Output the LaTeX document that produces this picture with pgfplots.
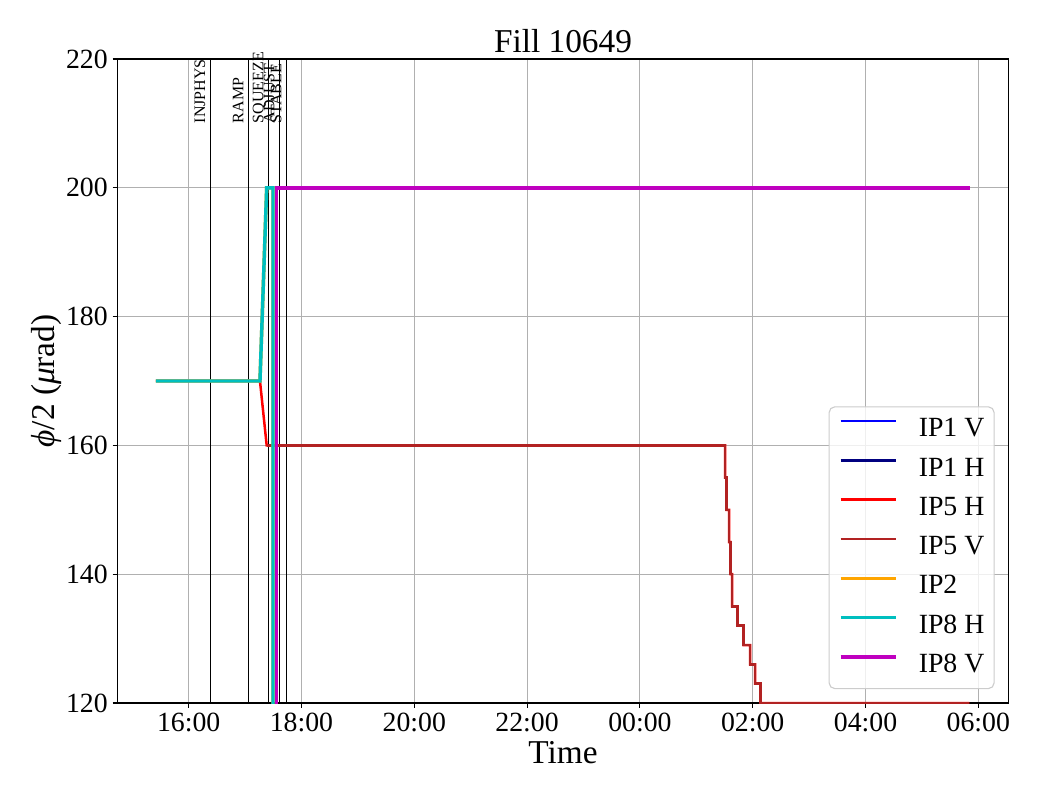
\documentclass[border=0pt]{standalone}
\usepackage{fontspec}
\setmainfont{Liberation Serif}
\usepackage{pgfplots}
\pgfplotsset{compat=1.18}
\definecolor{ipone}{RGB}{0,0,255}
\definecolor{iponeh}{RGB}{0,0,128}
\definecolor{ipfiveh}{RGB}{255,0,0}
\definecolor{ipfivev}{RGB}{178,34,34}
\definecolor{iptwo}{RGB}{255,165,0}
\definecolor{ipeighth}{RGB}{0,191,191}
\definecolor{ipeightv}{RGB}{191,0,191}
\definecolor{gridgray}{RGB}{176,176,176}
\definecolor{leggray}{RGB}{204,204,204}
\begin{document}
\begin{tikzpicture}
\path[use as bounding box] (-84.6pt,-69.84pt) rectangle (664.2pt,506.16pt);
\begin{axis}[
  at={(0,0)}, anchor=south west,
  scale only axis, width=641.52pt, height=463.68pt,
  xmin=14.738, xmax=30.535, ymin=120, ymax=220,
  xtick={16,18,20,22,24,26,28,30},
  xticklabels={16:00,18:00,20:00,22:00,00:00,02:00,04:00,06:00},
  ytick={120,140,160,180,200,220},
  grid=major, major grid style={gridgray, line width=0.8pt},
  axis line style={line width=0.8pt},
  tick align=outside, major tick length=3.5pt,
  tick style={black, line width=0.8pt},
  tick pos=left,
  ticklabel style={font=\fontsize{20}{24}\selectfont},
  /pgf/number format/assume math mode=true,
  /pgf/number format/1000 sep={},
  legend cell align=left,
  legend style={at={(1,0)}, anchor=south east, xshift=-10pt, yshift=10pt,
    draw=leggray, line width=0.8pt, rounded corners=4pt,
    fill=white, fill opacity=0.8, draw opacity=1, text opacity=1,
    font=\fontsize{20}{24}\selectfont,
    inner xsep=7pt, inner ysep=7.5pt, row sep=10.3pt,
    nodes={inner sep=0pt, text height=14pt, text depth=4pt},
    /tikz/every odd column/.append style={column sep=15pt}},
  legend image code/.code={\draw[#1, line cap=butt] (0pt,6.3pt) -- (40pt,6.3pt);},
]
% phase lines
\addplot[black, line width=0.7pt, forget plot] coordinates {(16.378,120) (16.378,220)};
\addplot[black, line width=0.7pt, forget plot] coordinates {(17.060,120) (17.060,220)};
\addplot[black, line width=0.7pt, forget plot] coordinates {(17.415,120) (17.415,220)};
\addplot[black, line width=0.7pt, forget plot] coordinates {(17.606,120) (17.606,220)};
\addplot[black, line width=0.7pt, forget plot] coordinates {(17.734,120) (17.734,220)};
\coordinate (pinj) at (axis cs:16.378,210);
\coordinate (pramp) at (axis cs:17.060,210);
\coordinate (psq) at (axis cs:17.415,210);
\coordinate (padj) at (axis cs:17.606,210);
\coordinate (pstb) at (axis cs:17.734,210);
% IP1 V
\addplot[ipone, line width=1.8pt] coordinates {
(17.383,160) (25.509,160) (25.509,155) (25.539,155) (25.539,150) (25.580,150)
(25.580,145) (25.610,145) (25.610,140) (25.633,140) (25.633,135) (25.734,135)
(25.734,132) (25.840,132) (25.840,129) (25.952,129) (25.952,126) (26.041,126)
(26.041,123) (26.142,123) (26.142,120) (29.84,120)};
\addlegendentry{IP1 V}
% IP1 H
\addplot[iponeh, line width=1.8pt] coordinates {
(17.383,160) (25.509,160) (25.509,155) (25.539,155) (25.539,150) (25.580,150)
(25.580,145) (25.610,145) (25.610,140) (25.633,140) (25.633,135) (25.734,135)
(25.734,132) (25.840,132) (25.840,129) (25.952,129) (25.952,126) (26.041,126)
(26.041,123) (26.142,123) (26.142,120) (29.84,120)};
\addlegendentry{IP1 H}
% IP5 H
\addplot[ipfiveh, line width=1.8pt] coordinates {
(15.42,170) (17.264,170)
(17.383,160) (25.509,160) (25.509,155) (25.539,155) (25.539,150) (25.580,150)
(25.580,145) (25.610,145) (25.610,140) (25.633,140) (25.633,135) (25.734,135)
(25.734,132) (25.840,132) (25.840,129) (25.952,129) (25.952,126) (26.041,126)
(26.041,123) (26.142,123) (26.142,120) (29.84,120)};
\addlegendentry{IP5 H}
% IP5 V
\addplot[ipfivev, line width=1.8pt] coordinates {
(17.383,160) (25.509,160) (25.509,155) (25.539,155) (25.539,150) (25.580,150)
(25.580,145) (25.610,145) (25.610,140) (25.633,140) (25.633,135) (25.734,135)
(25.734,132) (25.840,132) (25.840,129) (25.952,129) (25.952,126) (26.041,126)
(26.041,123) (26.142,123) (26.142,120) (29.84,120)};
\addlegendentry{IP5 V}
% IP2
\addplot[iptwo, line width=2.5pt] coordinates {
(15.42,170) (17.264,170) (17.383,200) (17.495,200) (17.495,100)};
\addlegendentry{IP2}
% IP8 H
\addplot[ipeighth, line width=2.5pt] coordinates {
(15.42,170) (17.264,170) (17.383,200) (17.495,200) (17.495,100)};
\addlegendentry{IP8 H}
% IP8 V
\addplot[ipeightv, line width=2.5pt] coordinates {
(17.56,100) (17.56,200) (29.85,200)};
\addlegendentry{IP8 V}
\end{axis}
% phase labels
\foreach \c/\t in {pinj/INJPHYS, pramp/RAMP, psq/SQUEEZE, padj/ADJUST, pstb/STABLE}{
  \node[rotate=90, anchor=base west, inner sep=0pt, font=\fontsize{11.5}{13}\selectfont]
    at ([xshift=-3.6pt]\c) {\t};
}
% title and axis labels
\node[anchor=base, font=\fontsize{24}{28}\selectfont] at (320.76pt,468pt) {Fill 10649};
\node[anchor=base, font=\fontsize{24}{28}\selectfont] at (320.76pt,-43.2pt) {Time};
\node[anchor=base, rotate=90, font=\fontsize{24}{28}\selectfont] at (-45pt,231.84pt) {\textit{ϕ}/2 (\textit{μ}rad)};
\end{tikzpicture}
\end{document}
